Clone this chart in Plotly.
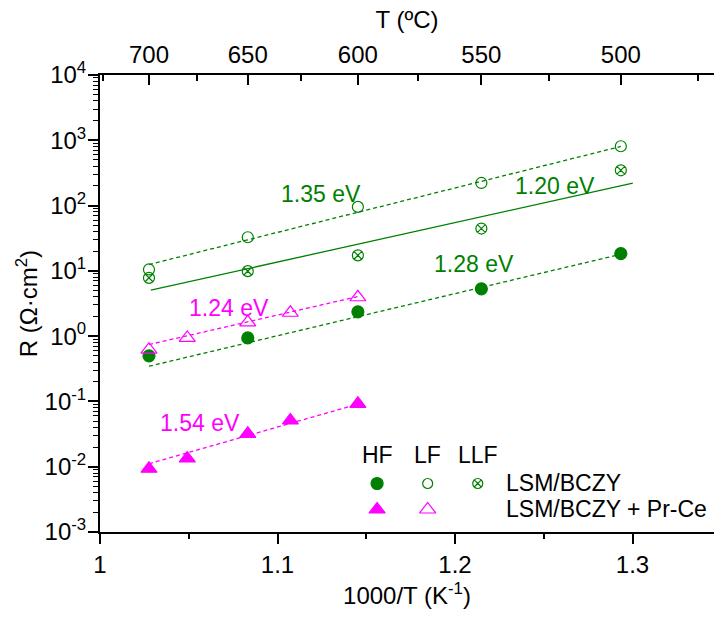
import numpy as np
import plotly.graph_objects as go

# ---------------- data ----------------
T_main = [700, 650, 600, 550, 500]          # degC
R_HF = [0.50, 0.94, 2.36, 5.3, 18.4]
R_LF = [10.5, 32.7, 95.5, 222, 810]
R_LLF = [7.8, 9.9, 17.3, 44.5, 347]

T_prce = [700, 680, 650, 630, 600]          # degC
R_HF_prce = [0.0093, 0.0134, 0.0319, 0.051, 0.092]
R_LF_prce = [0.62, 0.94, 1.63, 2.28, 3.94]

# Arrhenius lines: activation energy (eV), R at line start, start/end temperature (degC)
fit_labels = ["1.35 eV", "1.20 eV", "1.28 eV", "1.24 eV", "1.54 eV"]
fit_Ea = [1.35, 1.20, 1.28, 1.24, 1.54]
fit_R0 = [12.5, 5.05, 0.346, 0.743, 0.0111]
fit_T0 = [700, 699, 700, 700, 700]
fit_T1 = [500, 496, 500, 600, 600]

top_T_major = [700, 650, 600, 550, 500]
top_T_minor = [725, 675, 625, 575, 525, 475]

y_tick_exp = [-3, -2, -1, 0, 1, 2, 3, 4]
x_ticks = [1.0, 1.1, 1.2, 1.3]
x_tick_text = ["1", "1.1", "1.2", "1.3"]

# ---------------- styles ----------------
GREEN = "#008000"
MAG = "#FF00FF"
FONT = "Liberation Sans, Arial, sans-serif"
kB = 8.617333e-5

def inv(T):
    return 1000.0 / (np.asarray(T, dtype=float) + 273.15)

X_RANGE = [1.0, 1.3459]

fig = go.Figure()

# fit lines
fit_colors = [GREEN, GREEN, GREEN, MAG, MAG]
fit_dash = ["4px,3px", "solid", "4px,3px", "4px,3px", "4px,3px"]
for Ea, R0, T0, T1, c, d in zip(fit_Ea, fit_R0, fit_T0, fit_T1, fit_colors, fit_dash):
    xx = np.array([inv(T0), inv(T1)])
    slope = Ea / (kB * 1000.0 * np.log(10))
    yy = 10 ** (np.log10(R0) + slope * (xx - xx[0]))
    fig.add_trace(go.Scatter(x=xx, y=yy, mode="lines",
                             line=dict(color=c, width=1.3, dash=d),
                             showlegend=False, hoverinfo="skip"))

def pts(T, R, sym, color, size, lw=1.2):
    fig.add_trace(go.Scatter(x=inv(T), y=R, mode="markers",
                             marker=dict(symbol=sym, size=size, color=color,
                                         line=dict(color=color, width=lw)),
                             showlegend=False))

pts(T_main, R_LLF, "circle-x-open", GREEN, 11)
pts(T_main, R_LF, "circle-open", GREEN, 11)
pts(T_main, R_HF, "circle", GREEN, 12)
pts(T_prce, R_LF_prce, "triangle-up-open", MAG, 14)
pts(T_prce, R_HF_prce, "triangle-up", MAG, 14)

# invisible trace for the top axis
fig.add_trace(go.Scatter(x=[X_RANGE[0]], y=[1], xaxis="x2", mode="markers",
                         marker=dict(opacity=0), showlegend=False, hoverinfo="skip"))

# activation energy labels (x in 1000/T, y in log10)
label_pos = [(1.1245, 2.184), (1.2563, 2.296), (1.2109, 1.112),
             (1.0728, 0.433), (1.0563, -1.328)]
for txt, (lx, ly), c in zip(fit_labels, label_pos, fit_colors):
    fig.add_annotation(x=lx, y=ly, text=txt, showarrow=False,
                       font=dict(family=FONT, size=23, color=c))

# custom legend
leg_cols = [1.1561, 1.1846, 1.2128]
leg_head_y = -1.828
leg_rows_y = [-2.257, -2.655]
for txt, cx in zip(["HF", "LF", "LLF"], leg_cols):
    fig.add_annotation(x=cx, y=leg_head_y, text=txt, showarrow=False,
                       font=dict(family=FONT, size=23, color="black"))
leg_marks = [("circle", GREEN, 12, 0, 0), ("circle-open", GREEN, 10, 1, 0),
             ("circle-x-open", GREEN, 10, 2, 0),
             ("triangle-up", MAG, 14, 0, 1), ("triangle-up-open", MAG, 14, 1, 1)]
for sym, c, s, ci, ri in leg_marks:
    fig.add_trace(go.Scatter(x=[leg_cols[ci]], y=[10 ** leg_rows_y[ri]], mode="markers",
                             marker=dict(symbol=sym, size=s, color=c,
                                         line=dict(color=c, width=1.2)),
                             showlegend=False, hoverinfo="skip"))
for txt, ry in zip(["LSM/BCZY", "LSM/BCZY + Pr-Ce"], leg_rows_y):
    fig.add_annotation(x=1.2278, y=ry, text=txt, showarrow=False, xanchor="left",
                       font=dict(family=FONT, size=23, color="black"))

y_minor = [m * 10.0 ** e for e in range(-3, 4) for m in range(2, 10)]

fig.update_layout(
    width=714, height=621,
    margin=dict(l=100, r=0, t=75, b=89),
    paper_bgcolor="white", plot_bgcolor="white",
    font=dict(family=FONT, size=24, color="black"),
    showlegend=False,
    xaxis=dict(range=X_RANGE, tickvals=x_ticks, ticktext=x_tick_text,
               ticks="outside", ticklen=10, tickwidth=1.5, tickcolor="black",
               tickfont=dict(size=24),
               showline=True, linecolor="black", linewidth=2, showgrid=False,
               zeroline=False, mirror=False,
               minor=dict(tickvals=[1.05, 1.15, 1.25], ticks="outside",
                          ticklen=5, tickwidth=1.5, tickcolor="black"),
               title=dict(text="1000/T (K<sup>-1</sup>)", standoff=10,
                          font=dict(size=24))),
    xaxis2=dict(range=X_RANGE, overlaying="x", side="top", anchor="y",
                tickvals=list(inv(top_T_major)), ticktext=[str(t) for t in top_T_major],
                ticks="inside", ticklen=10, tickwidth=1.5, tickcolor="black",
                tickfont=dict(size=24),
                showline=True, linecolor="black", linewidth=2, showgrid=False,
                zeroline=False,
                minor=dict(tickvals=list(inv(top_T_minor)), ticks="inside",
                           ticklen=6, tickwidth=1.5, tickcolor="black"),
                title=dict(text="T (ºC)", standoff=6, font=dict(size=24))),
    yaxis=dict(type="log", range=[-3, 4],
               tickvals=[10.0 ** e for e in y_tick_exp],
               ticktext=["10<sup>%d</sup>" % e for e in y_tick_exp],
               ticks="outside", ticklen=10, tickwidth=1.5, tickcolor="black",
               tickfont=dict(size=24), ticklabelstandoff=-3,
               showline=True, linecolor="black", linewidth=2, showgrid=False,
               zeroline=False,
               minor=dict(tickvals=y_minor, ticks="outside", ticklen=5,
                          tickwidth=1.2, tickcolor="black"),
               title=dict(text="R (Ω·cm<sup>2</sup>)", standoff=0,
                          font=dict(size=24))),
)

fig.write_html("out.html")
